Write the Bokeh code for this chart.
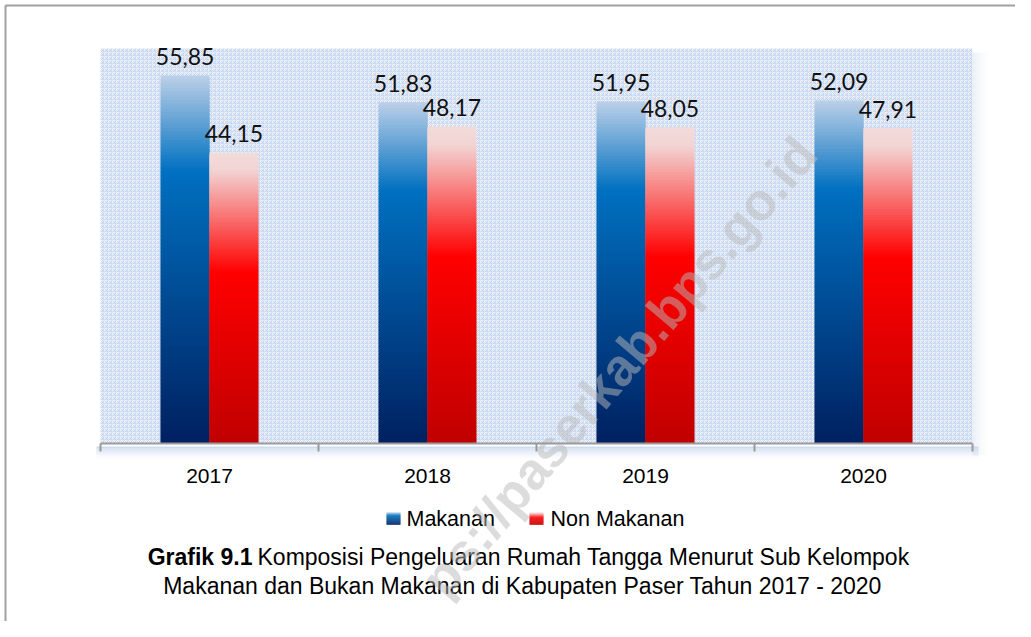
import numpy as np
from bokeh.plotting import figure
from bokeh.models import Range1d, FixedTicker, ColumnDataSource
from bokeh.core.properties import value
from bokeh.embed import file_html
from bokeh.resources import INLINE

# ---------------- data ----------------
years = ["2017", "2018", "2019", "2020"]
makanan = [55.85, 51.83, 51.95, 52.09]
non_makanan = [44.15, 48.17, 48.05, 47.91]
series_names = ["Makanan", "Non Makanan"]
caption_bold = "Grafik 9.1"
caption_line1 = "Komposisi Pengeluaran Rumah Tangga Menurut Sub Kelompok"
caption_line2 = "Makanan dan Bukan Makanan di Kabupaten Paser Tahun 2017 - 2020"
watermark = "ps://paserkab.bps.go.id"

# ---------------- layout helpers (canvas pixels -> data units) ----------------
W, H = 1015, 621
FL, FR, FT, FB = 100, 972, 48, 443
YMAX = 60.0
XU = (FR - FL) / 4.0
YU = (FB - FT) / YMAX


def px(x):
    return (x - FL) / XU


def py(y):
    return (FB - y) / YU


def hex2rgb(h):
    return np.array([int(h[i:i + 2], 16) for i in (1, 3, 5)], dtype=float)


def grad(stops, t):
    for (t0, c0), (t1, c1) in zip(stops, stops[1:]):
        if t <= t1:
            f = 0.0 if t1 == t0 else (t - t0) / (t1 - t0)
            c = hex2rgb(c0) * (1 - f) + hex2rgb(c1) * f
            return "#%02x%02x%02x" % tuple(int(round(v)) for v in c)
    return stops[-1][1]


blue_stops = [(0.0, "#bcd0e8"), (0.26, "#0070c0"), (1.0, "#002060")]
red_stops = [(0.0, "#f2dcdb"), (0.06, "#f2d4d3"), (0.41, "#ff0000"), (1.0, "#c00000")]

N = 120
BW = 0.224
OFFSET = 0.112


def strips(vals, dx, stops):
    d = dict(left=[], right=[], top=[], bottom=[], color=[])
    for i, v in enumerate(vals):
        c = i + 0.5 + dx
        for k in range(N):
            d["left"].append(c - BW / 2)
            d["right"].append(c + BW / 2)
            d["top"].append(v * (1 - k / N))
            d["bottom"].append(max(0.0, v * (1 - (k + 2.0) / N)))
            d["color"].append(grad(stops, (k + 0.5) / N))
    return ColumnDataSource(d)


FONT = "Liberation Sans"
FS_AX = "21px"
FS_LEG = "21.5px"
FS_CAP = "23px"

p = figure(width=W, height=H, output_backend="svg", toolbar_location=None,
           x_range=Range1d(px(0), px(W)), y_range=Range1d(py(H), py(0)),
           min_border=0)
p.background_fill_color = "white"
p.border_fill_color = "white"
p.outline_line_color = None
p.grid.visible = False
p.yaxis.visible = False

# soft shadow around plot area
for k, a in enumerate([0.35, 0.25, 0.17, 0.1, 0.05]):
    p.quad(left=px(FR + k * 3), right=px(FR + k * 3 + 3), bottom=py(FB + 12), top=py(FT + 4),
           fill_color="#c8d4e8", fill_alpha=a, line_alpha=0)
for k, a in enumerate([0.8, 0.6, 0.42, 0.28, 0.16, 0.07]):
    p.quad(left=px(FL - 4), right=px(FR + 6), bottom=py(FB + 3 + (k + 1) * 2),
           top=py(FB + 3 + k * 2), fill_color="#c3d3ec", fill_alpha=a, line_alpha=0)

# checkered plot background
p.quad(left=0, right=4, bottom=0, top=YMAX, fill_color="#f6f8fc", line_alpha=0,
       hatch_pattern="criss_cross", hatch_color="#c3d4ee", hatch_scale=4,
       hatch_weight=1, hatch_alpha=0.85)

# bars (gradient strips)
p.quad(left="left", right="right", top="top", bottom="bottom",
       source=strips(makanan, -OFFSET, blue_stops), fill_color="color", line_color=None)
p.quad(left="left", right="right", top="top", bottom="bottom",
       source=strips(non_makanan, OFFSET, red_stops), fill_color="color", line_color=None)

# value labels
xs_b = [i + 0.5 - OFFSET for i in range(len(years))]
xs_r = [i + 0.5 + OFFSET for i in range(len(years))]
lab = lambda v: f"{v:.2f}".replace(".", ",")
for xs, vals in ((xs_b, makanan), (xs_r, non_makanan)):
    p.text(x=xs, y=vals, text=[lab(v) for v in vals], text_align="center",
           text_baseline="alphabetic", y_offset=-19, text_font=value("Lato"),
           text_font_size="23px", text_color="#111111")

# x axis at y = 0
ax = p.xaxis[0]
ax.fixed_location = 0
ax.bounds = (0, 4)
ax.ticker = FixedTicker(ticks=[i + 0.5 for i in range(len(years))],
                        minor_ticks=list(range(len(years) + 1)))
ax.major_label_overrides = {i + 0.5: y for i, y in enumerate(years)}
ax.major_tick_out = 0
ax.major_tick_in = 0
ax.minor_tick_out = 8
ax.minor_tick_in = 0
ax.minor_tick_line_color = "#9a9a9a"
ax.minor_tick_line_width = 2
ax.axis_line_color = "#9a9a9a"
ax.axis_line_width = 2
ax.major_label_standoff = 17
ax.major_label_text_font = FONT
ax.major_label_text_font_size = FS_AX
ax.major_label_text_color = "#000000"

# legend (gradient squares + labels)
sq = [(386, blue_stops, series_names[0], 406), (529, red_stops, series_names[1], 550)]
NS = 12
for x0, stops, name, tx in sq:
    p.quad(left=[px(x0)] * NS, right=[px(x0 + 14)] * NS,
           top=[py(512 + k) for k in range(NS)], bottom=[py(513.3 + k) for k in range(NS)],
           fill_color=[grad(stops, (k + 0.5) / NS) for k in range(NS)], line_color=None)
    p.text(x=[px(tx)], y=[py(518)], text=[name], text_align="left", text_baseline="middle",
           text_font=value(FONT), text_font_size=FS_LEG, text_color="#000000")

# caption
p.text(x=[px(252)], y=[py(556)], text=[caption_bold], text_align="right",
       text_baseline="middle", text_font=value(FONT), text_font_style="bold",
       text_font_size=FS_CAP, text_color="#000000")
p.text(x=[px(257)], y=[py(556)], text=[caption_line1], text_align="left",
       text_baseline="middle", text_font=value(FONT), text_font_size=FS_CAP,
       text_color="#000000")
p.text(x=[px(522)], y=[py(585)], text=[caption_line2], text_align="center",
       text_baseline="middle", text_font=value(FONT), text_font_size=FS_CAP,
       text_color="#000000")

# watermark
p.text(x=[px(806)], y=[py(144)], text=[watermark], angle=0.87,
       text_align="right", text_baseline="alphabetic", text_font=value(FONT),
       text_font_style="bold", text_font_size="52px", text_color="#b9b9b9",
       text_alpha=0.5)

# outer frame lines (top and left)
p.segment(x0=[px(5), px(5)], y0=[py(5), py(5)], x1=[px(W), px(5)], y1=[py(5), py(H)],
          line_color="#a0a0a0", line_width=2)

open("out.html", "w").write(file_html(p, INLINE))
